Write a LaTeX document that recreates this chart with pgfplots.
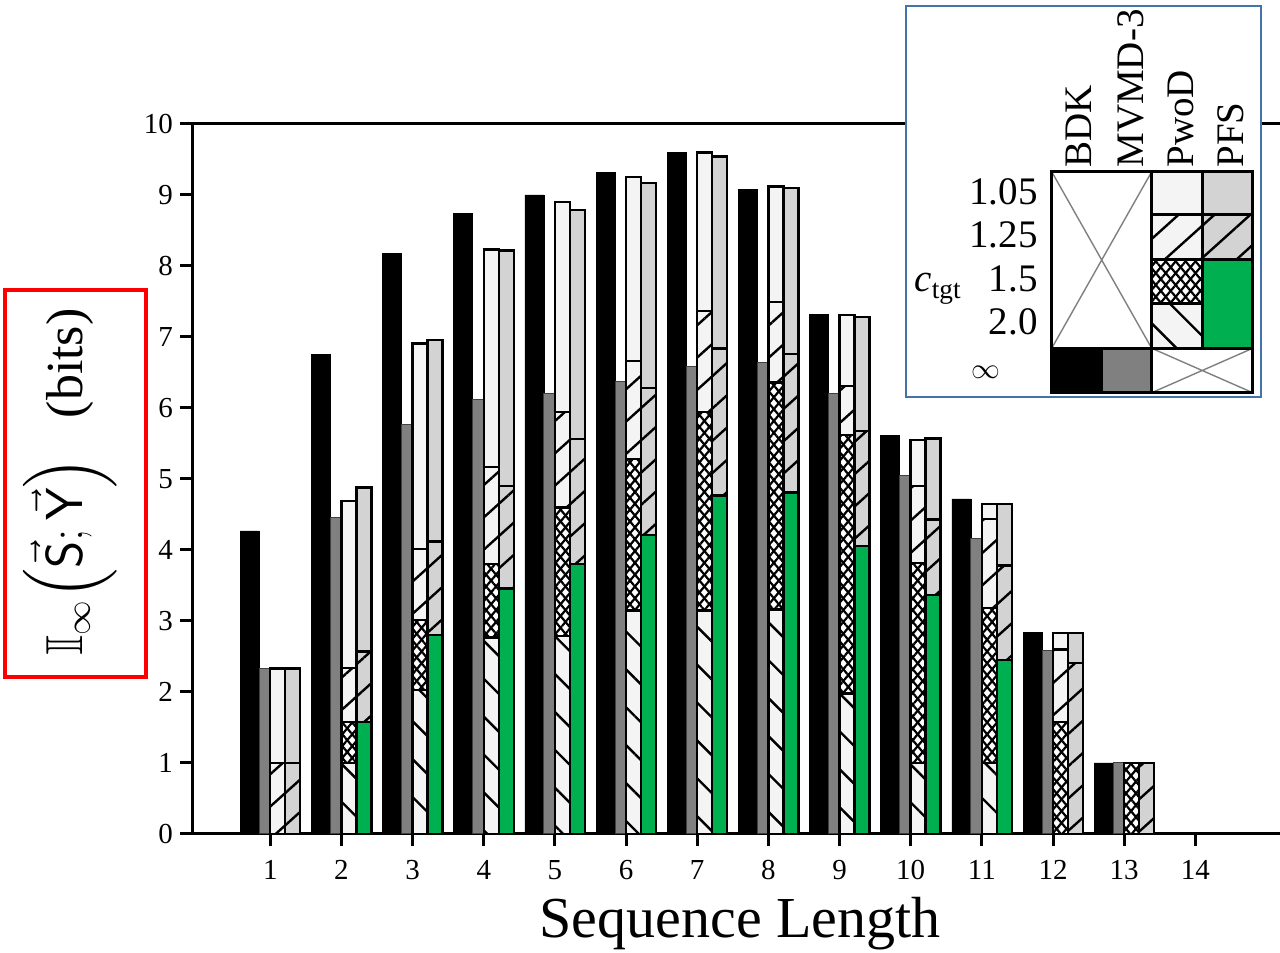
\documentclass[border=0pt]{standalone}
\usepackage{amsmath,amssymb}
\usepackage{fontspec}
\setmainfont{Liberation Serif}
\usepackage{pgfplots}
\usepackage{pgfplotstable}
\pgfplotsset{compat=1.18}
\usetikzlibrary{patterns.meta}

\definecolor{pwod}{HTML}{F4F4F4}
\definecolor{pfs}{HTML}{D3D3D3}
\definecolor{mvmd}{HTML}{808080}
\definecolor{grn}{HTML}{00B050}
\definecolor{lgblue}{RGB}{68,114,170}

\tikzset{
  hatchA/.style={preaction={fill=#1}, pattern={Lines[angle=42,distance=12pt,line width=1.2pt]}, pattern color=black},
  hatchB/.style={preaction={fill=#1}, pattern={Lines[angle=-45,distance=13.4pt,line width=1.2pt]}, pattern color=black},
  crossh/.style={preaction={fill=white}, preaction={pattern={Lines[angle=50,distance=3.8pt,line width=1.1pt]}}, pattern={Lines[angle=-50,distance=3.8pt,line width=1.1pt]}, pattern color=black},
}

\pgfplotstableread{
G  BDK  MVMD P105 P125 P15  P20  F105 F125 F15
1  4.27 2.33 2.33 1.00 0    0    2.33 1.00 0
2  6.76 4.46 4.69 2.34 1.58 1.00 4.88 2.57 1.58
3  8.18 5.77 6.91 4.01 3.01 2.03 6.96 4.12 2.80
4  8.74 6.12 8.23 5.17 3.80 2.77 8.22 4.90 3.46
5  9.00 6.21 8.90 5.94 4.60 2.79 8.79 5.56 3.80
6  9.32 6.37 9.25 6.66 5.28 3.15 9.17 6.28 4.21
7  9.60 6.59 9.60 7.37 5.94 3.15 9.54 6.84 4.77
8  9.08 6.64 9.12 7.49 6.36 3.16 9.10 6.76 4.81
9  7.32 6.20 7.31 6.31 5.62 1.98 7.28 5.68 4.06
10 5.61 5.05 5.55 4.90 3.82 1.00 5.57 4.43 3.37
11 4.72 4.16 4.65 4.44 3.18 1.00 4.65 3.78 2.45
12 2.84 2.59 2.83 2.60 1.58 0    2.83 2.41 0
13 1.00 1.00 1.00 1.00 1.00 0    1.00 1.00 0
}\data

\begin{document}
\begin{tikzpicture}
\path[use as bounding box] (0,0) rectangle (640pt,476.5pt);
\begin{axis}[
  at={(96pt,59.5pt)}, anchor=south west,
  scale only axis, width=544pt, height=355pt,
  xmin=-0.1, xmax=15.19, ymin=0, ymax=10,
  axis x line*=box, axis y line*=left,
  xtick={1,...,14}, ytick={0,...,10},
  xtick pos=bottom, ytick pos=left, tick align=outside,
  major tick length=6pt,
  axis line style={line width=1.5pt},
  every tick/.style={black, line width=1.5pt},
  tick label style={font=\fontsize{14.5}{16}\selectfont},
  xticklabel style={yshift=-3.5pt},
  /pgf/number format/assume math mode=true,
]
\addplot[ybar, bar width=0.267, bar shift=-0.288, fill=black, draw=black, line width=0.3pt] table[x=G,y=BDK]{\data};
\addplot[ybar, bar width=0.155, bar shift=-0.077, fill=mvmd, draw=black!75, line width=0.5pt] table[x=G,y=MVMD]{\data};
% PwoD
\addplot[ybar, bar width=0.211, bar shift=0.105, fill=pwod, draw=black, line width=1.2pt] table[x=G,y=P105]{\data};
\addplot[ybar, bar width=0.211, bar shift=0.105, hatchA=pwod, draw=black, line width=1.2pt] table[x=G,y=P125]{\data};
\addplot[ybar, bar width=0.211, bar shift=0.105, crossh, draw=black, line width=1.2pt] table[x=G,y=P15]{\data};
\addplot[ybar, bar width=0.211, bar shift=0.105, hatchB=pwod, draw=black, line width=1.2pt] table[x=G,y=P20]{\data};
% PFS
\addplot[ybar, bar width=0.211, bar shift=0.316, fill=pfs, draw=black, line width=1.2pt] table[x=G,y=F105]{\data};
\addplot[ybar, bar width=0.211, bar shift=0.316, hatchA=pfs, draw=black, line width=1.2pt] table[x=G,y=F125]{\data};
\addplot[ybar, bar width=0.211, bar shift=0.316, fill=grn, draw=black, line width=1.2pt] table[x=G,y=F15]{\data};
\end{axis}

\begin{scope}[shift={(0pt,476.5pt)}, x=0.5pt, y=-0.5pt]
  % x label
  \node[anchor=base, inner sep=0pt, font=\fontsize{29}{32}\selectfont] at (740,938) {Sequence Length};
  % y label with red box
  \draw[red, line width=2pt] (5,290) rectangle (146,677);
  \node[rotate=90, inner sep=0pt, font=\fontsize{26}{30}\selectfont] at (70,482)
    {$\mathbb{I}_{\infty}\Bigl(\vec{\mathsf{S}};\vec{\mathsf{Y}}\Bigr)$\hspace{0.5em} (bits)};
  % legend box
  \fill[white] (906,6) rectangle (1261,397);
  \draw[lgblue, line width=1.35pt] (906,6) rectangle (1261,397);
  \def\Xa{1051.7}\def\Xb{1101.7}\def\Xc{1151.7}\def\Xd{1202.7}\def\Xe{1252.7}
  \def\Ya{171.7}\def\Yb{215}\def\Yc{259.3}\def\Yd{304}\def\Ye{348.3}\def\Yf{392.7}
  \begin{scope}[line width=1.5pt]
    \fill[white] (\Xa,\Ya) rectangle (\Xc,\Ye);
    \draw[gray, line width=0.7pt] (\Xa,\Ya) -- (\Xc,\Ye) (\Xa,\Ye) -- (\Xc,\Ya);
    \draw (\Xa,\Ya) rectangle (\Xc,\Ye);
    \draw[fill=pwod] (\Xc,\Ya) rectangle (\Xd,\Yb);
    \draw[hatchA=pwod] (\Xc,\Yb) rectangle (\Xd,\Yc);
    \draw[crossh] (\Xc,\Yc) rectangle (\Xd,\Yd);
    \draw[hatchB=pwod] (\Xc,\Yd) rectangle (\Xd,\Ye);
    \draw[fill=pfs] (\Xd,\Ya) rectangle (\Xe,\Yb);
    \draw[hatchA=pfs] (\Xd,\Yb) rectangle (\Xe,\Yc);
    \draw[fill=grn] (\Xd,\Yc) rectangle (\Xe,\Ye);
    \draw[fill=black] (\Xa,\Ye) rectangle (\Xb,\Yf);
    \draw[fill=mvmd] (\Xb,\Ye) rectangle (\Xc,\Yf);
    \fill[white] (\Xc,\Ye) rectangle (\Xe,\Yf);
    \draw[gray, line width=0.7pt] (\Xc,\Ye) -- (\Xe,\Yf) (\Xc,\Yf) -- (\Xe,\Ye);
    \draw (\Xc,\Ye) rectangle (\Xe,\Yf);
  \end{scope}
  \begin{scope}[every node/.style={inner sep=0pt, font=\fontsize{19.5}{22}\selectfont}]
    \node[rotate=90, anchor=base west] at (1091.7,168) {BDK};
    \node[rotate=90, anchor=base west] at (1143.3,168) {MVMD-3};
    \node[rotate=90, anchor=base west] at (1193.3,168) {PwoD};
    \node[rotate=90, anchor=base west] at (1243.3,168) {PFS};
    \node[anchor=base east] at (1038,205) {1.05};
    \node[anchor=base east] at (1038,248) {1.25};
    \node[anchor=base east] at (1038,292) {1.5};
    \node[anchor=base east] at (1038,335) {2.0};
    \node[anchor=base east] at (962,292) {\textit{c}\textsubscript{tgt}};
  \end{scope}
  \node[anchor=base east, inner sep=0pt, font=\fontsize{15}{17}\selectfont] at (1001,379) {$\infty$};
\end{scope}
\end{tikzpicture}
\end{document}
